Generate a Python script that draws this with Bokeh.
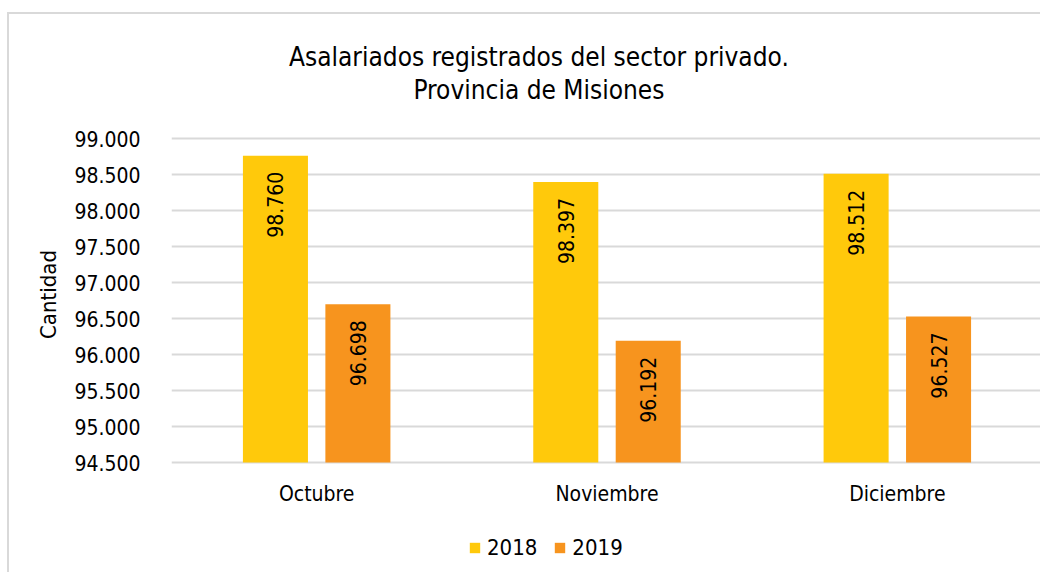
from bokeh.plotting import figure
from bokeh.models import ColumnDataSource, FactorRange, Range1d, Legend, LegendItem, FixedTicker
from bokeh.transform import dodge
from bokeh.core.properties import value
from bokeh.embed import file_html
from bokeh.resources import INLINE
import math

months = ["Octubre", "Noviembre", "Diciembre"]
vals_2018 = [98760, 98397, 98512]
vals_2019 = [96698, 96192, 96527]
series_names = ["2018", "2019"]
y_ticks = [94500, 95000, 95500, 96000, 96500, 97000, 97500, 98000, 98500, 99000]
title_lines = ["Asalariados registrados del sector privado.", "Provincia de Misiones"]

FONT = "'DejaVu Sans Condensed', 'Roboto Condensed', 'Liberation Sans Narrow', Roboto"
YEL = "#FFC90B"
ORA = "#F7941E"

W, H = 1033, 560
TOP_PX = 14            # page y of the canvas top
Y_MIN, Y_MAX = y_ticks[0], y_ticks[-1]
PX_TOP, PX_BOT = 138, 462   # page y of the value axis ends
UPP = (Y_MAX - Y_MIN) / (PX_BOT - PX_TOP)   # data units per pixel


def ydata(py):
    """Page pixel row -> value axis coordinate."""
    return Y_MAX - (py - PX_TOP) * UPP


def fmt(v):
    return f"{v:,}".replace(",", ".")


src = ColumnDataSource(dict(
    m=months, a=vals_2018, b=vals_2019,
    la=[fmt(v) for v in vals_2018], lb=[fmt(v) for v in vals_2019],
))

p = figure(x_range=FactorRange(*months),
           y_range=Range1d(ydata(TOP_PX + H), ydata(TOP_PX)),
           width=W, height=H, output_backend="svg", toolbar_location=None,
           min_border_left=162, min_border_right=0, min_border_top=0, min_border_bottom=0)
p.styles = {"margin-top": "12px", "margin-left": "7px",
            "border-top": "2px solid #d9d9d9", "border-left": "2px solid #d9d9d9"}
p.outline_line_color = None

r1 = p.vbar(x=dodge("m", -0.142, range=p.x_range), top="a", bottom=Y_MIN, width=0.224,
            source=src, fill_color=YEL, line_color=None)
r2 = p.vbar(x=dodge("m", 0.142, range=p.x_range), top="b", bottom=Y_MIN, width=0.224,
            source=src, fill_color=ORA, line_color=None)

for col, lab, dx in (("a", "la", -0.142), ("b", "lb", 0.142)):
    p.text(x=dodge("m", dx, range=p.x_range), y=col, text=lab, source=src, angle=math.pi / 2,
           text_align="right", text_baseline="middle", y_offset=16,
           text_font=value(FONT), text_font_size="21px", text_color="#000000")

# category labels under the value axis base
p.text(x=months, y=[ydata(493)] * len(months), text=months,
       text_align="center", text_baseline="middle",
       text_font=value(FONT), text_font_size="21px", text_color="#000000")

# title (two centred lines)
p.text(x=[(539 - 172) / 290] * 2, y=[ydata(56), ydata(89)], text=title_lines,
       text_align="center", text_baseline="middle",
       text_font=value(FONT), text_font_size="26px", text_color="#000000")

p.yaxis.ticker = FixedTicker(ticks=y_ticks)
p.yaxis.major_label_overrides = {v: fmt(v) for v in y_ticks}
p.yaxis.axis_line_color = None
p.yaxis.major_tick_line_color = None
p.yaxis.minor_tick_line_color = None
p.yaxis.major_label_standoff = 25
p.yaxis.major_label_text_font = FONT
p.yaxis.major_label_text_font_size = "21px"
p.yaxis.major_label_text_color = "#000000"
p.yaxis.axis_label = "Cantidad"
p.yaxis.axis_label_text_font = FONT
p.yaxis.axis_label_text_font_size = "22px"
p.yaxis.axis_label_text_font_style = "normal"
p.yaxis.axis_label_text_color = "#000000"
p.yaxis.axis_label_standoff = 10

p.xaxis.visible = False
p.xgrid.grid_line_color = None
p.ygrid.grid_line_color = "#d9d9d9"
p.ygrid.grid_line_width = 2

legend = Legend(items=[LegendItem(label=series_names[0], renderers=[r1]),
                       LegendItem(label=series_names[1], renderers=[r2])],
                orientation="horizontal", location=(297, 14), padding=0, margin=0, spacing=16,
                glyph_width=13, glyph_height=13, label_standoff=6,
                label_text_font=FONT, label_text_font_size="22px", label_text_color="#000000",
                border_line_color=None, background_fill_alpha=0)
p.add_layout(legend, "center")

open("out.html", "w").write(file_html(p, INLINE))
